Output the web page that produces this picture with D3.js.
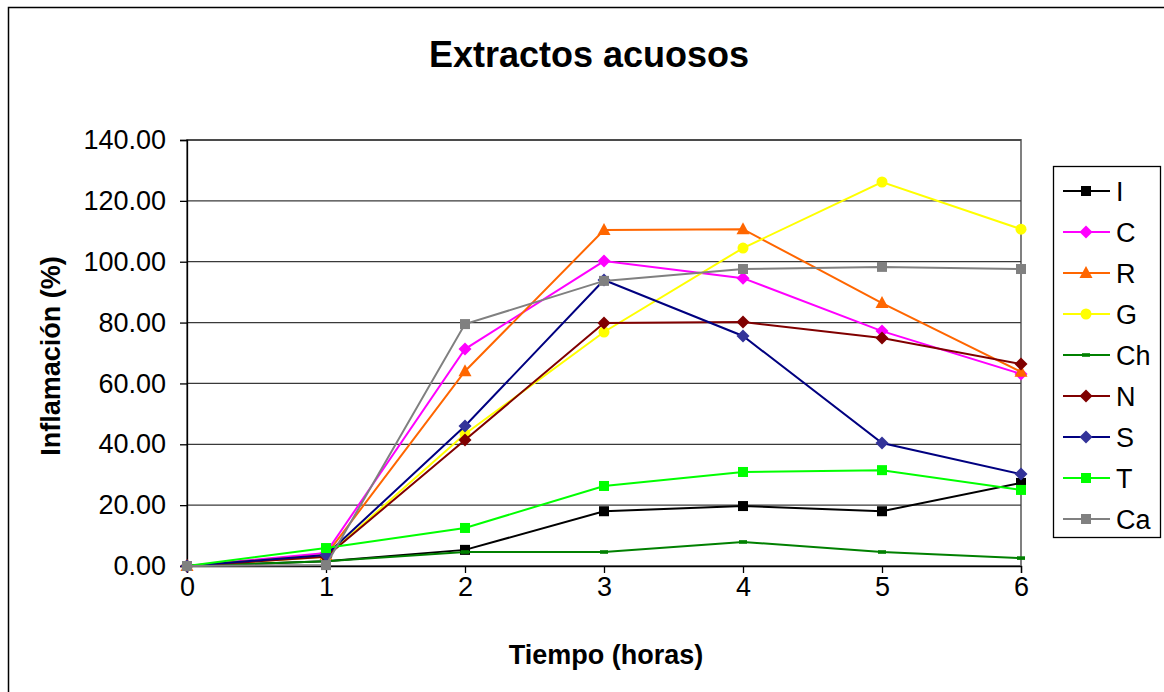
<!DOCTYPE html>
<html>
<head>
<meta charset="utf-8">
<script src="https://cdn.jsdelivr.net/npm/d3@7"></script>
<style>
  html, body { margin: 0; padding: 0; background: #fff; }
  svg { display: block; font-family: "Liberation Sans", Arial, sans-serif; }
</style>
</head>
<body>
<svg id="chart" width="1164" height="692"></svg>
<script>
// Hours after treatment
const hours = [0, 1, 2, 3, 4, 5, 6];
const yTicks = [0, 20, 40, 60, 80, 100, 120, 140];

// Inflammation (%) for each aqueous extract
const serieI  = [0, 1.6, 5.3, 18.0, 19.7, 18.0, 27.3];
const serieC  = [0, 4.3, 71.3, 100.2, 94.6, 77.2, 63.1];
const serieR  = [0, 3.6, 64.0, 110.4, 110.7, 86.4, 63.8];
const serieG  = [0, 3.0, 43.4, 76.9, 104.5, 126.2, 110.7];
const serieCh = [0, 1.6, 4.6, 4.6, 7.9, 4.6, 2.6];
const serieN  = [0, 3.0, 41.4, 79.9, 80.2, 74.9, 66.4];
const serieS  = [0, 3.6, 46.0, 94.0, 75.6, 40.4, 30.2];
const serieT  = [0, 5.9, 12.5, 26.3, 30.9, 31.5, 25.0];
const serieCa = [0, 0.3, 79.5, 93.7, 97.6, 98.3, 97.6];

const seriesNames = ["I", "C", "R", "G", "Ch", "N", "S", "T", "Ca"];
const seriesValues = [serieI, serieC, serieR, serieG, serieCh, serieN, serieS, serieT, serieCa];
const lineColors   = ["#000000", "#FF00FF", "#FF6600", "#FFFF00", "#008000", "#800000", "#000080", "#00FF00", "#808080"];
const markerColors = ["#000000", "#FF00FF", "#FF6600", "#FFFF00", "#008000", "#800000", "#333399", "#00FF00", "#808080"];
const markerShapes = ["square", "diamond", "triangle", "circle", "dash", "diamond", "diamond", "square", "square"];

const svg = d3.select("#chart");
const plot = { left: 187, right: 1021, top: 140, bottom: 566 };
const fontStack = "'Liberation Sans', Arial, sans-serif";

// Outer chart frame
svg.append("rect")
  .attr("x", 8.5).attr("y", 7.5).attr("width", 1160).attr("height", 690)
  .attr("fill", "#fff").attr("stroke", "#000").attr("stroke-width", 1.5);

const x = d3.scaleLinear().domain([0, 6]).range([plot.left, plot.right]);
const y = d3.scaleLinear().domain([0, 140]).range([plot.bottom, plot.top]);

// Plot area frame
svg.append("rect")
  .attr("x", plot.left).attr("y", plot.top)
  .attr("width", plot.right - plot.left).attr("height", plot.bottom - plot.top)
  .attr("fill", "none").attr("stroke", "#808080").attr("stroke-width", 2);

// Horizontal gridlines
svg.append("g").selectAll("line")
  .data(yTicks.filter(d => d > 0))
  .join("line")
  .attr("x1", plot.left).attr("x2", plot.right)
  .attr("y1", d => y(d)).attr("y2", d => y(d))
  .attr("stroke", "#3a3a3a").attr("stroke-width", 1.3);

// Y axis
const yAxis = svg.append("g")
  .attr("transform", `translate(${plot.left},0)`)
  .call(d3.axisLeft(y).tickValues(yTicks).tickFormat(d3.format(".2f")).tickSize(7).tickPadding(14));
yAxis.select(".domain").attr("stroke", "#000").attr("stroke-width", 1.3);
yAxis.selectAll(".tick line").attr("stroke", "#000").attr("stroke-width", 1.3);
yAxis.selectAll(".tick text")
  .attr("font-size", 27).attr("fill", "#000")
  .attr("font-family", fontStack);

// X axis
const xAxis = svg.append("g")
  .attr("transform", `translate(0,${plot.bottom})`)
  .call(d3.axisBottom(x).tickValues(hours).tickFormat(d3.format("d")).tickSize(7).tickPadding(4));
xAxis.select(".domain").attr("stroke", "#000").attr("stroke-width", 1.3);
xAxis.selectAll(".tick line").attr("stroke", "#000").attr("stroke-width", 1.3);
xAxis.selectAll(".tick text")
  .attr("font-size", 27).attr("fill", "#000")
  .attr("font-family", fontStack);

// Marker drawing helper
function drawMarker(g, shape, cx, cy, fill) {
  if (shape === "square") {
    g.append("rect").attr("x", cx - 5).attr("y", cy - 5).attr("width", 10).attr("height", 10).attr("fill", fill);
  } else if (shape === "diamond") {
    g.append("path").attr("d", `M${cx},${cy - 6.5}L${cx + 6.5},${cy}L${cx},${cy + 6.5}L${cx - 6.5},${cy}Z`).attr("fill", fill);
  } else if (shape === "triangle") {
    g.append("path").attr("d", `M${cx},${cy - 7}L${cx + 6.5},${cy + 5}L${cx - 6.5},${cy + 5}Z`).attr("fill", fill);
  } else if (shape === "circle") {
    g.append("circle").attr("cx", cx).attr("cy", cy).attr("r", 5.5).attr("fill", fill);
  } else if (shape === "dash") {
    g.append("rect").attr("x", cx - 4).attr("y", cy - 1.8).attr("width", 8).attr("height", 3.6).attr("fill", fill);
  }
}

const line = d3.line().x((d, i) => x(hours[i])).y(d => y(d));

// Series lines and markers
seriesValues.forEach((vals, k) => {
  const g = svg.append("g");
  g.append("path")
    .attr("d", line(vals))
    .attr("fill", "none")
    .attr("stroke", lineColors[k])
    .attr("stroke-width", 2);
  vals.forEach((v, i) => drawMarker(g, markerShapes[k], x(hours[i]), y(v), markerColors[k]));
});

// Title
svg.append("text")
  .attr("x", 589).attr("y", 67)
  .attr("text-anchor", "middle")
  .attr("font-size", 36).attr("font-weight", "bold")
  .text("Extractos acuosos");

// Axis titles
svg.append("text")
  .attr("x", 606).attr("y", 664)
  .attr("text-anchor", "middle")
  .attr("font-size", 27).attr("font-weight", "bold")
  .text("Tiempo (horas)");

svg.append("text")
  .attr("transform", "translate(60,356) rotate(-90)")
  .attr("text-anchor", "middle")
  .attr("font-size", 27).attr("font-weight", "bold")
  .text("Inflamación (%)");

// Legend
const legend = svg.append("g");
legend.append("rect")
  .attr("x", 1053.5).attr("y", 166.5).attr("width", 107).attr("height", 371)
  .attr("fill", "#fff").attr("stroke", "#000").attr("stroke-width", 1.3);

seriesNames.forEach((name, k) => {
  const cy = 191 + k * 41;
  const g = legend.append("g");
  g.append("line")
    .attr("x1", 1063).attr("x2", 1110).attr("y1", cy).attr("y2", cy)
    .attr("stroke", lineColors[k]).attr("stroke-width", 2);
  drawMarker(g, markerShapes[k], 1086, cy, markerColors[k]);
  g.append("text")
    .attr("x", 1116).attr("y", cy + 10)
    .attr("font-size", 27)
    .text(name);
});
</script>
</body>
</html>
